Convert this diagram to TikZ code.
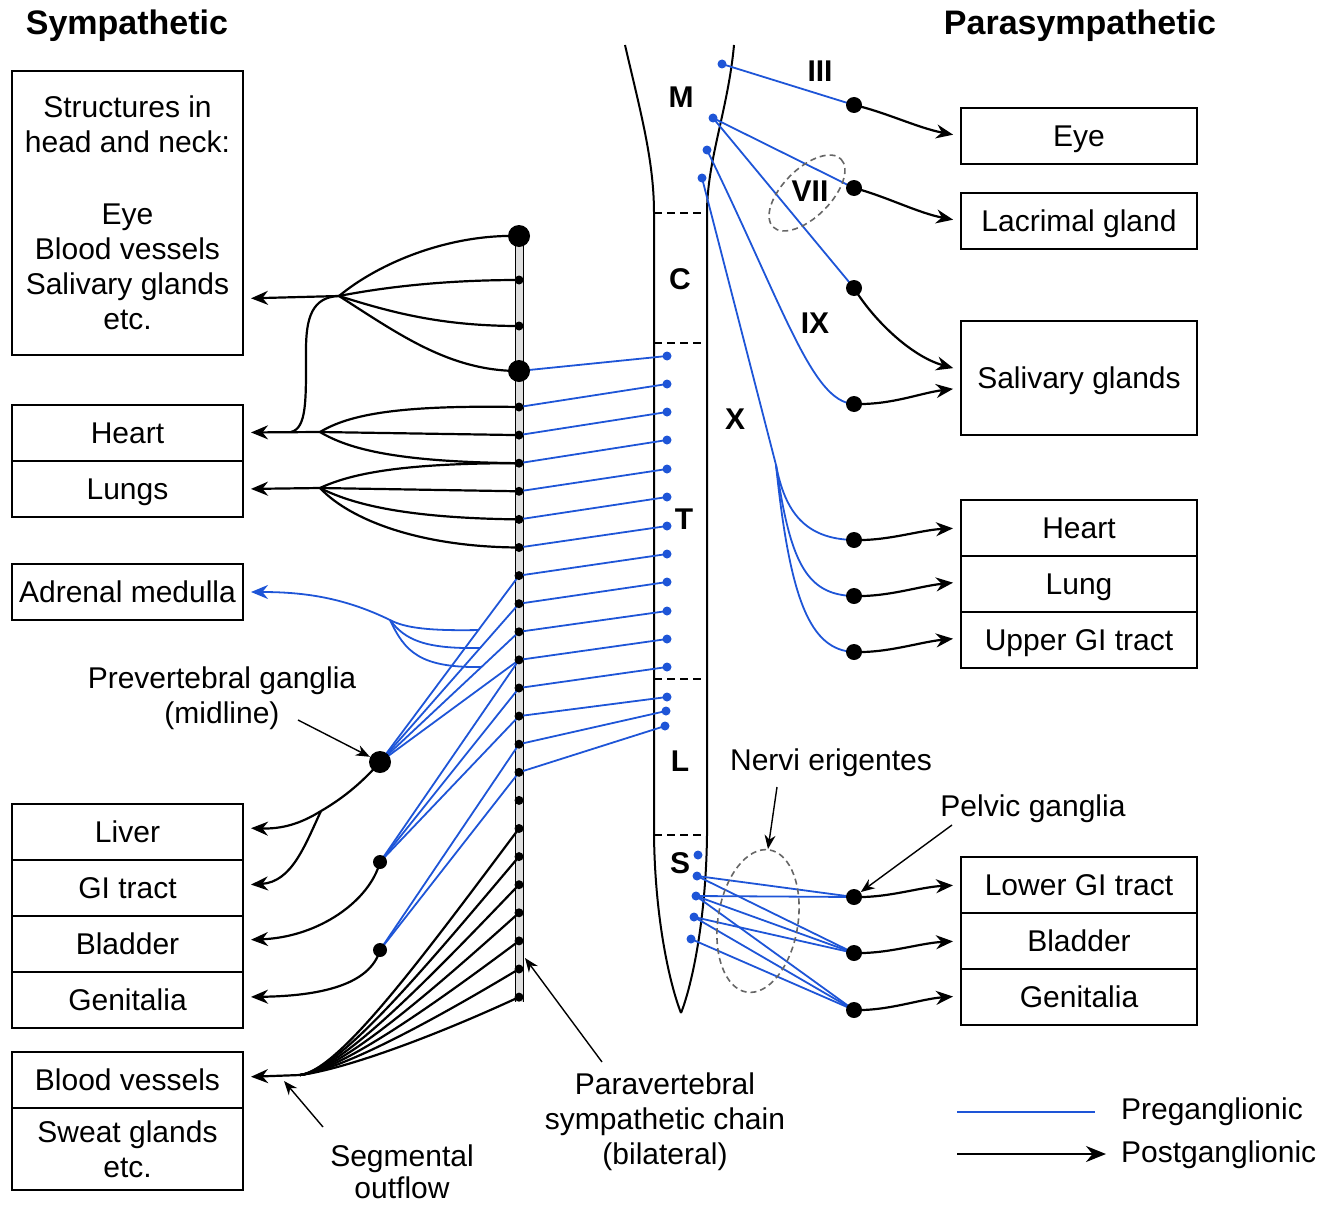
\documentclass[tikz,border=0pt]{standalone}
\usepackage{fontspec}
\setmainfont{Liberation Sans}
\usetikzlibrary{arrows.meta,calc,backgrounds}
\definecolor{pre}{RGB}{30,85,215}
\begin{document}
\begin{tikzpicture}[x=0.5pt,y=-0.5pt,
  every node/.style={font=\fontsize{15}{17.5}\selectfont},
  organ/.style={draw,line width=1pt,fill=white,inner sep=0pt,minimum height=28pt,align=center},
  lorgan/.style={organ,minimum width=115.5pt},
  rorgan/.style={organ,minimum width=118pt},
  one/.style={text height=10.8pt,text depth=0pt},
  post/.style={line width=1.1pt,-{Stealth[length=8.5pt,width=7pt]},shorten >=3.5pt},
  postline/.style={line width=1.1pt},
  preline/.style={draw=pre,line width=0.9pt},
  ann/.style={line width=0.7pt,-{Stealth[length=7pt,width=5.5pt]}},
  ell/.style={draw=black!60,dash pattern=on 3pt off 2pt,line width=0.8pt},
  bdot/.style={circle,fill=pre,inner sep=0pt,minimum size=4.5pt},
  gdot/.style={circle,fill=black,inner sep=0pt,minimum size=8pt},
  mdot/.style={circle,fill=black,inner sep=0pt,minimum size=7pt},
  bigdot/.style={circle,fill=black,inner sep=0pt,minimum size=11pt},
  cdot/.style={circle,fill=black,inner sep=0pt,minimum size=4.5pt},
  seglab/.style={font=\fontsize{15}{17.5}\selectfont\bfseries},
  head/.style={font=\fontsize{17}{20}\selectfont\bfseries}]
\useasboundingbox (0,0) rectangle (1321,1204);

% headings
\node[head] (hsym) at (127,26) {Sympathetic};
\node[head] (hpar) at (1080,26) {Parasympathetic};

% left organ boxes
\node[lorgan,minimum height=141.5pt] (headL) at (127.5,213) {Structures in\\head and neck:\\[18.5pt]Eye\\Blood vessels\\Salivary glands\\etc.};
\node[lorgan,one] (heartL) at (127.5,432.5) {Heart};
\node[lorgan,one] (lungL) at (127.5,489) {Lungs};
\node[lorgan,one] (adrL) at (127.5,592) {Adrenal medulla};
\node[lorgan,one] (livL) at (127.5,832) {Liver};
\node[lorgan,one] (giL) at (127.5,888) {GI tract};
\node[lorgan,one] (blaL) at (127.5,944) {Bladder};
\node[lorgan,one] (genL) at (127.5,1000) {Genitalia};
\node[lorgan,one] (bvL) at (127.5,1080) {Blood vessels};
\node[lorgan,minimum height=41pt] (swL) at (127.5,1149) {Sweat glands\\etc.};

% right organ boxes
\node[rorgan,one] (eyeR) at (1079,136) {Eye};
\node[rorgan,one] (lacR) at (1079,221) {Lacrimal gland};
\node[rorgan,one,minimum height=57pt] (salR) at (1079,378) {Salivary glands};
\node[rorgan,one] (heartR) at (1079,528) {Heart};
\node[rorgan,one] (lungR) at (1079,584) {Lung};
\node[rorgan,one] (ugiR) at (1079,640) {Upper GI tract};
\node[rorgan,one] (lgiR) at (1079,885) {Lower GI tract};
\node[rorgan,one] (blaR) at (1079,941) {Bladder};
\node[rorgan,one] (genR) at (1079,997) {Genitalia};

% spinal segment labels
\node[seglab] (lM) at (681,97) {M};
\node[seglab] (lC) at (680,279) {C};
\node[seglab] (lT) at (684,519) {T};
\node[seglab] (lL) at (680,761) {L};
\node[seglab] (lS) at (680,863) {S};
\node[seglab] (nIII) at (820,71) {III};
\node[seglab] (nVII) at (810,191) {VII};
\node[seglab] (nIX) at (815,323) {IX};
\node[seglab] (nX) at (735,419) {X};

% other labels
\node[align=center] (prevlab) at (222,698) {Prevertebral ganglia\\(midline)};
\node[align=center,font=\fontsize{15}{16}\selectfont] (seglabel) at (402,1172) {Segmental\\outflow};
\node[align=center] (paralab) at (665,1122) {Paravertebral\\sympathetic chain\\(bilateral)};
\node (nervlab) at (831,763) {Nervi erigentes};
\node (pelvlab) at (1033,809) {Pelvic ganglia};
\node[anchor=west] (lgpre) at (1114,1112) {Preganglionic};
\node[anchor=west] (lgpost) at (1114,1155) {Postganglionic};

% paravertebral chain dots
\node[bigdot] (bg1) at (519,236) {};
\node[cdot] (hd1) at (519,280) {};
\node[cdot] (hd2) at (519,326) {};
\node[bigdot] (bg2) at (519,371) {};
\foreach \i in {0,...,21} {\node[cdot] (c\i) at (519,{407+28.1*\i}) {};}

% spinal cord preganglionic cell dots
\foreach \i/\x/\y in {1/667/356,2/667/384,3/667/412,4/667/440,5/667/469,6/667/497,7/667/526,8/667/554,9/667/582,10/667/611,11/667/639,12/667/667,13/667/697,14/666/711,15/665/726}
  {\node[bdot] (s\i) at (\x,\y) {};}
\node[bdot] (m1) at (722,64) {};
\node[bdot] (m2) at (713,118) {};
\node[bdot] (m3) at (707,150) {};
\node[bdot] (m4) at (702,178) {};
\node[bdot] (p1) at (698,855) {};
\node[bdot] (p2) at (697,876) {};
\node[bdot] (p3) at (696,896) {};
\node[bdot] (p4) at (694,917) {};
\node[bdot] (p5) at (691,939) {};

% parasympathetic ganglia
\foreach \i/\y in {1/105,2/188,3/288,4/404,5/540,6/596,7/652,8/897,9/953,10/1010}
  {\node[gdot] (pg\i) at (854,\y) {};}

% prevertebral ganglia
\node[bigdot] (vg1) at (380,762) {};
\node[mdot] (vg2) at (380,862) {};
\node[mdot] (vg3) at (380,950) {};

% hubs and free ends
\coordinate (hh) at (339,296);
\coordinate (hj) at (291,432);
\coordinate (ht) at (320,432);
\coordinate (lt) at (320,488);
\coordinate (am) at (390,620);
\coordinate (lb) at (321,811);
\coordinate (bh) at (300,1075);
\coordinate (xb) at (776,465);
\coordinate (pa) at (298,720);
\coordinate (sa) at (323,1127);
\coordinate (sb) at (284,1081);
\coordinate (pv) at (602,1062);
\coordinate (pvt) at (525,958);
\coordinate (ne1) at (777,787);
\coordinate (ne2) at (768,849);
\coordinate (pe1) at (952,825);
\coordinate (lg1) at (957,1112);
\coordinate (lg2) at (1095,1112);
\coordinate (lg3) at (957,1154);
\coordinate (lg4) at (1106,1154);

\begin{pgfonlayer}{background}
% spinal cord outline
\draw[line width=1pt] (625,45) .. controls (640,110) and (654,160) .. (654,213) -- (654,835) .. controls (655,920) and (670,985) .. (681,1013);
\draw[line width=1pt] (734,45) .. controls (728,110) and (707,160) .. (707,213) -- (707,835) .. controls (706,920) and (692,985) .. (681,1013);
\foreach \y in {213,343,679,835}
  {\draw[line width=1pt,dash pattern=on 4pt off 2.5pt] (654,\y) -- (707,\y);}

% paravertebral chain
\fill[black!13] (515,236) rectangle (523,1002);
\draw[line width=0.5pt] (515,236) -- (515,1002) (523,236) -- (523,1002);

% preganglionic: spinal cord to chain
\draw[preline] (s1.center) -- (bg2.center);
\foreach \i in {2,...,15} {\pgfmathtruncatemacro\j{\i-2}\draw[preline] (s\i.center) -- (c\j.center);}

% preganglionic: chain to prevertebral ganglia
\foreach \i in {6,7,8,9} {\draw[preline] (c\i.center) -- (vg1.center);}
\foreach \i in {9,10,11} {\draw[preline] (c\i.center) -- (vg2.center);}
\foreach \i in {12,13} {\draw[preline] (c\i.center) -- (vg3.center);}

% adrenal medulla
\draw[preline] (479,630) .. controls (430,631) and (405,628) .. (am);
\draw[preline] (480,648) .. controls (425,649) and (405,640) .. (am);
\draw[preline] (482,667) .. controls (420,668) and (405,652) .. (am);
\draw[preline,-{Stealth[length=8.5pt,width=7pt]},shorten >=3.5pt] (am) .. controls (345,598) and (305,592) .. (adrL.east);

% postganglionic: head and neck
\draw[postline] (bg1.center) .. controls (450,234) and (380,262) .. (hh);
\draw[postline] (hd1.center) .. controls (440,280) and (380,288) .. (hh);
\draw[postline] (hd2.center) .. controls (440,326) and (390,312) .. (hh);
\draw[postline] (bg2.center) .. controls (450,371) and (400,335) .. (hh);
\draw[post] (hh) -- ([yshift=-42.75pt]headL.east);
\draw[postline] (hh) .. controls (312,297) and (306,318) .. (306,350) .. controls (306,400) and (307,428) .. (hj);

% heart
\draw[postline] (c0.center) .. controls (400,405) and (350,414) .. (ht);
\draw[postline] (c1.center) -- (ht);
\draw[postline] (c2.center) .. controls (400,462) and (350,450) .. (ht);
\draw[post] (ht) -- (heartL.east);
% lungs
\draw[postline] (c2.center) .. controls (400,463) and (350,474) .. (lt);
\draw[postline] (c3.center) -- (lt);
\draw[postline] (c4.center) .. controls (400,518) and (350,503) .. (lt);
\draw[postline] (c5.center) .. controls (420,547) and (350,520) .. (lt);
\draw[post] (lt) -- (lungL.east);

% prevertebral postganglionic
\draw[postline] (vg1.center) .. controls (360,785) and (340,800) .. (lb);
\draw[post] (lb) .. controls (300,824) and (282,829) .. ([yshift=2pt]livL.east);
\draw[post] (lb) .. controls (305,845) and (292,882) .. ([yshift=1.5pt]giL.east);
\draw[post] (vg2.center) .. controls (370,900) and (320,937) .. ([yshift=2pt]blaL.east);
\draw[post] (vg3.center) .. controls (370,985) and (320,996) .. ([yshift=1.5pt]genL.east);

% segmental outflow
\foreach \i/\ay in {15/955,16/969,17/984,18/998,19/1012,20/1026,21/1041}
  {\draw[postline] (c\i.center) .. controls (424,\ay) and (340,1070) .. (bh);}
\draw[post] (bh) -- ([yshift=1.5pt]bvL.east);

% parasympathetic preganglionic
\draw[preline] (m1.center) -- (pg1.center);
\draw[preline] (m2.center) -- (pg2.center);
\draw[preline] (m2.center) -- (pg3.center);
\draw[preline] (m3.center) .. controls (785,310) and (812,402) .. (pg4.center);
\draw[preline] (m4.center) -- (xb);
\draw[preline] (xb) .. controls (785,512) and (805,539) .. (pg5.center);
\draw[preline] (xb) .. controls (790,560) and (805,595) .. (pg6.center);
\draw[preline] (xb) .. controls (790,600) and (810,650) .. (pg7.center);
% sacral
\foreach \a/\b in {p2/pg8,p3/pg8,p2/pg9,p3/pg9,p4/pg9,p3/pg10,p4/pg10,p5/pg10}
  {\draw[preline] (\a.center) -- (\b.center);}

% parasympathetic postganglionic
\draw[post] (pg1.center) .. controls (885,112) and (918,128) .. (eyeR.west);
\draw[post] (pg2.center) .. controls (885,196) and (918,213) .. (lacR.west);
\draw[post] (pg3.center) .. controls (872,318) and (910,356) .. ([yshift=4pt]salR.west);
\draw[post] (pg4.center) .. controls (892,405) and (920,393) .. ([yshift=-5pt]salR.west);
\draw[post] (pg5.center) .. controls (888,541) and (920,530) .. (heartR.west);
\draw[post] (pg6.center) .. controls (888,597) and (920,586) .. ([yshift=1pt]lungR.west);
\draw[post] (pg7.center) .. controls (888,653) and (920,642) .. ([yshift=1pt]ugiR.west);
\draw[post] (pg8.center) .. controls (888,898) and (920,887) .. (lgiR.west);
\draw[post] (pg9.center) .. controls (888,954) and (920,943) .. (blaR.west);
\draw[post] (pg10.center) .. controls (888,1011) and (920,999) .. ([yshift=0.5pt]genR.west);
\end{pgfonlayer}

% dashed ellipses
\draw[ell,rotate around={45:(807,193)}] (807,193) ellipse [x radius=48, y radius=24];
\draw[ell,rotate around={-9:(758,921)}] (758,921) ellipse [x radius=40, y radius=72];

% annotation arrows
\draw[ann] (pa) -- (vg1);
\draw[ann] (sa) -- (sb);
\draw[ann] (pv) -- (pvt);
\draw[ann] (ne1) -- (ne2);
\draw[ann] (pe1) -- (pg8);

% legend
\draw[preline,line width=1.1pt] (lg1) -- (lg2);
\draw[line width=1.1pt,-{Stealth[length=10pt,width=8pt]}] (lg3) -- (lg4);
\end{tikzpicture}
\end{document}
